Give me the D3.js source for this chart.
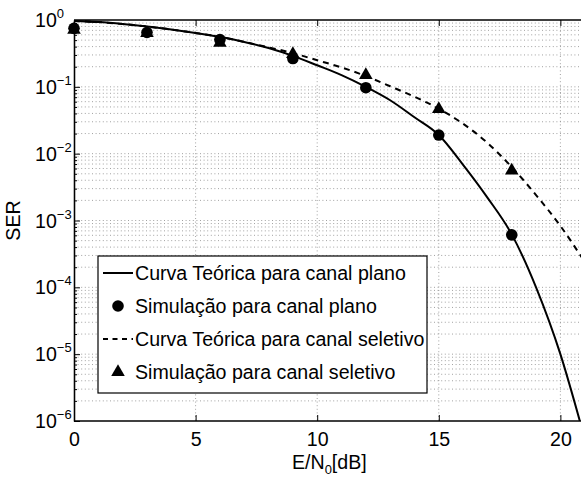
<!DOCTYPE html>
<html>
<head>
<meta charset="utf-8">
<script src="https://cdn.jsdelivr.net/npm/d3@7"></script>
<style>
  html, body { margin: 0; padding: 0; background: #fff; }
  svg { display: block; font-family: "Liberation Sans", Arial, Helvetica, sans-serif; }
</style>
</head>
<body>
<script>
// SNR axis (dB) and symbol error rate curves
const xTicks = [0, 5, 10, 15, 20];
const yExponents = [0, -1, -2, -3, -4, -5, -6];

// Theoretical SER, flat channel
const flatTheoryX = [0, 1, 2, 3, 4, 5, 6, 7, 8, 9, 10, 11, 12, 13, 14, 15, 16, 17, 18, 19, 20, 20.8];
const flatTheoryY = [0.97, 0.93, 0.87, 0.80, 0.72, 0.64, 0.56, 0.47, 0.38, 0.29, 0.21, 0.15, 0.10, 0.063,
                     0.035, 0.019, 0.0068, 0.0022, 6.2e-4, 1.0e-4, 1.0e-5, 1.0e-6];

// Theoretical SER, frequency-selective channel
const selTheoryX = [0, 1, 2, 3, 4, 5, 6, 7, 8, 9, 10, 11, 12, 13, 14, 15, 16, 17, 18, 19, 20, 21];
const selTheoryY = [0.97, 0.93, 0.87, 0.80, 0.72, 0.64, 0.56, 0.47, 0.39, 0.32, 0.25, 0.195, 0.145, 0.102,
                    0.071, 0.047, 0.028, 0.0145, 0.0063, 0.0024, 8.3e-4, 2.4e-4];

// Simulated points
const simX = [0, 3, 6, 9, 12, 15, 18];
const flatSimY = [0.75, 0.65, 0.51, 0.265, 0.097, 0.019, 6.1e-4];
const selSimY = [0.74, 0.66, 0.47, 0.32, 0.155, 0.048, 0.0058];

const legendLabels = [
  "Curva Teórica para canal plano",
  "Simulação para canal plano",
  "Curva Teórica para canal seletivo",
  "Simulação para canal seletivo"
];

const W = 581, H = 477;
const L = 74, R = 584.7, T = 20, B = 421;

const svg = d3.select("body").append("svg").attr("width", W).attr("height", H);

const x = d3.scaleLinear().domain([0, 21]).range([L, R]);
const y = d3.scaleLog().domain([1e-6, 1]).range([B, T]);

svg.append("defs").append("clipPath").attr("id", "plotArea")
  .append("rect").attr("x", L).attr("y", T).attr("width", R - L).attr("height", B - T);

// Grid: dotted lines at every log subdivision and major x ticks
const yGridVals = [];
for (let e = -6; e < 0; e++) for (let m = 1; m <= 9; m++) yGridVals.push(m * Math.pow(10, e));
const yMinorVals = yGridVals.filter(v => Math.abs(Math.log10(v) - Math.round(Math.log10(v))) > 1e-9);

const grid = svg.append("g").attr("stroke", "#8a8a8a").attr("stroke-width", 0.8)
  .attr("stroke-dasharray", "1,2.6").attr("fill", "none");
grid.selectAll(".gy").data(yGridVals.filter(v => v > 1e-6)).join("line")
  .attr("x1", L).attr("x2", R).attr("y1", d => y(d)).attr("y2", d => y(d));
grid.selectAll(".gx").data(xTicks.filter(v => v > 0)).join("line")
  .attr("x1", d => x(d)).attr("x2", d => x(d)).attr("y1", T).attr("y2", B);

// Axes with inward ticks
const fontSize = 19.6;
const axB = svg.append("g").attr("transform", `translate(0,${B})`)
  .call(d3.axisBottom(x).tickValues(xTicks).tickFormat(d3.format("d")).tickSizeInner(-6).tickSizeOuter(0).tickPadding(11));
const axT = svg.append("g").attr("transform", `translate(0,${T})`)
  .call(d3.axisTop(x).tickValues(xTicks).tickFormat("").tickSizeInner(-6).tickSizeOuter(0));
const axL = svg.append("g").attr("transform", `translate(${L},0)`)
  .call(d3.axisLeft(y).tickValues(yExponents.map(e => Math.pow(10, e))).tickFormat("").tickSizeInner(-6).tickSizeOuter(0));
const axLm = svg.append("g").attr("transform", `translate(${L},0)`)
  .call(d3.axisLeft(y).tickValues(yMinorVals).tickFormat("").tickSizeInner(-3).tickSizeOuter(0));

[axB, axT, axL, axLm].forEach(g => {
  g.select(".domain").attr("stroke", "#000").attr("stroke-width", 1.3);
  g.selectAll(".tick line").attr("stroke", "#000").attr("stroke-width", 1);
});
axB.selectAll(".tick text").attr("font-size", fontSize).attr("fill", "#000")
  .attr("font-family", "Liberation Sans, Arial, sans-serif");
axB.select(".domain").attr("d", `M${L},0H${R}`);
axT.select(".domain").attr("d", `M${L},0H${R}`);

// Y tick labels 10^k
const yLab = svg.append("g").attr("font-size", fontSize).attr("fill", "#000");
yExponents.forEach(e => {
  const t = yLab.append("text").attr("x", 35).attr("y", y(Math.pow(10, e)) + 7);
  t.append("tspan").text("10");
  t.append("tspan").attr("font-size", 13).attr("dy", -9).text(e === 0 ? "0" : "\u2212" + Math.abs(e));
});

// Axis labels
const xl = svg.append("text").attr("x", (L + R) / 2).attr("y", 469).attr("text-anchor", "middle")
  .attr("font-size", fontSize).attr("fill", "#000");
xl.append("tspan").text("E/N");
xl.append("tspan").attr("font-size", 13).attr("dy", 5).text("0");
xl.append("tspan").attr("dy", -5).text("[dB]");

svg.append("text").attr("transform", `translate(20,${(T + B) / 2}) rotate(-90)`)
  .attr("text-anchor", "middle").attr("font-size", fontSize).attr("fill", "#000").text("SER");

// Curves
const plot = svg.append("g").attr("clip-path", "url(#plotArea)");
const line = d3.line().x(d => x(d[0])).y(d => y(d[1])).curve(d3.curveMonotoneX);

plot.append("path").datum(d3.zip(flatTheoryX, flatTheoryY)).attr("d", line)
  .attr("fill", "none").attr("stroke", "#000").attr("stroke-width", 2);
plot.append("path").datum(d3.zip(selTheoryX, selTheoryY)).attr("d", line)
  .attr("fill", "none").attr("stroke", "#000").attr("stroke-width", 2).attr("stroke-dasharray", "6,5");

const tri = d3.symbol().type(d3.symbolTriangle).size(80);

const markers = svg.append("g");
markers.selectAll(".cf").data(d3.zip(simX, flatSimY)).join("circle")
  .attr("cx", d => x(d[0])).attr("cy", d => y(d[1])).attr("r", 5.8).attr("fill", "#000");
markers.selectAll(".ts").data(d3.zip(simX, selSimY)).join("path")
  .attr("d", tri).attr("transform", d => `translate(${x(d[0])},${y(d[1]) + 1})`).attr("fill", "#000");

// Legend
const lg = svg.append("g");
lg.append("rect").attr("x", 98).attr("y", 256).attr("width", 329).attr("height", 137)
  .attr("fill", "#fff").attr("stroke", "#000").attr("stroke-width", 1.2);
const rowY = [273, 306, 339, 372];
legendLabels.forEach((lab, i) => {
  const cy = rowY[i];
  if (i === 0) lg.append("line").attr("x1", 103).attr("x2", 133).attr("y1", cy).attr("y2", cy)
    .attr("stroke", "#000").attr("stroke-width", 2);
  if (i === 2) lg.append("line").attr("x1", 103).attr("x2", 133).attr("y1", cy).attr("y2", cy)
    .attr("stroke", "#000").attr("stroke-width", 2).attr("stroke-dasharray", "5,4.5");
  if (i === 1) lg.append("circle").attr("cx", 118).attr("cy", cy).attr("r", 5.8).attr("fill", "#000");
  if (i === 3) lg.append("path").attr("d", tri).attr("transform", `translate(118,${cy})`).attr("fill", "#000");
  lg.append("text").attr("x", 135).attr("y", cy + 7).attr("font-size", fontSize).attr("fill", "#000").text(lab);
});
</script>
</body>
</html>
